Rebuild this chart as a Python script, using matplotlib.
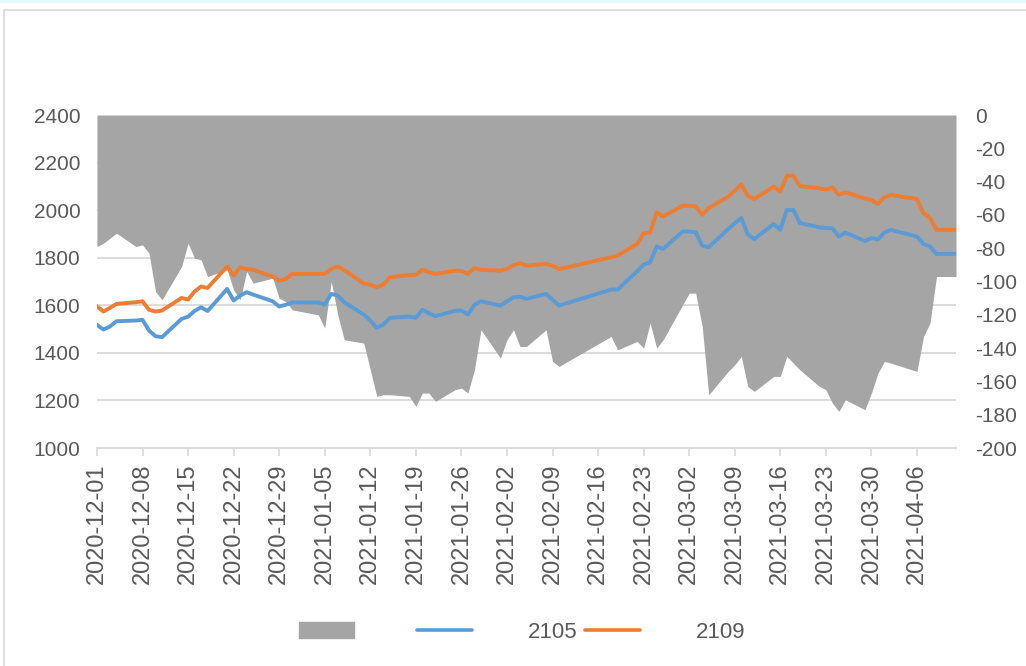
"""
Spread chart: 2105 / 2109 contracts with the spread as a grey area (right axis)
"""
import matplotlib
matplotlib.use('Agg')
import matplotlib.pyplot as plt
import matplotlib.dates as mdates
from matplotlib.patches import Patch, Rectangle
from matplotlib.lines import Line2D
import numpy as np
import pandas as pd

plt.rcParams['font.family'] = ['Liberation Sans', 'DejaVu Sans']
plt.rcParams['axes.unicode_minus'] = False

BLUE = '#5B9BD5'
ORANGE = '#ED7D31'
GREY = '#A5A5A5'
TEXT = '#595959'
GRID = '#D9D9D9'

# ── Data ────────────────────────────────────────────────────
dates = pd.to_datetime([
    '2020-12-01', '2020-12-02', '2020-12-03', '2020-12-04', '2020-12-07',
    '2020-12-08', '2020-12-09', '2020-12-10', '2020-12-11', '2020-12-14',
    '2020-12-15', '2020-12-16', '2020-12-17', '2020-12-18', '2020-12-21',
    '2020-12-22', '2020-12-23', '2020-12-24', '2020-12-25', '2020-12-28',
    '2020-12-29', '2020-12-30', '2020-12-31', '2021-01-04', '2021-01-05',
    '2021-01-06', '2021-01-07', '2021-01-08', '2021-01-11', '2021-01-12',
    '2021-01-13', '2021-01-14', '2021-01-15', '2021-01-18', '2021-01-19',
    '2021-01-20', '2021-01-21', '2021-01-22', '2021-01-25', '2021-01-26',
    '2021-01-27', '2021-01-28', '2021-01-29', '2021-02-01', '2021-02-02',
    '2021-02-03', '2021-02-04', '2021-02-05', '2021-02-08', '2021-02-09',
    '2021-02-10', '2021-02-18', '2021-02-19', '2021-02-22', '2021-02-23',
    '2021-02-24', '2021-02-25', '2021-02-26', '2021-03-01', '2021-03-02',
    '2021-03-03', '2021-03-04', '2021-03-05', '2021-03-08', '2021-03-09',
    '2021-03-10', '2021-03-11', '2021-03-12', '2021-03-15', '2021-03-16',
    '2021-03-17', '2021-03-18', '2021-03-19', '2021-03-22', '2021-03-23',
    '2021-03-24', '2021-03-25', '2021-03-26', '2021-03-29', '2021-03-30',
    '2021-03-31', '2021-04-01', '2021-04-02', '2021-04-06', '2021-04-07',
    '2021-04-08', '2021-04-09', '2021-04-12',
])

c2105 = [1518, 1498, 1511, 1533, 1536, 1539, 1494, 1470, 1466, 1543,
         1552, 1576, 1592, 1576, 1669, 1620, 1641, 1655, 1645, 1617,
         1595, 1602, 1612, 1612, 1603, 1648, 1641, 1613, 1561, 1536,
         1505, 1519, 1547, 1553, 1547, 1581, 1567, 1554, 1577, 1578,
         1561, 1602, 1617, 1599, 1617, 1634, 1636, 1627, 1648, 1623,
         1599, 1666, 1666, 1743, 1771, 1781, 1847, 1837, 1910, 1910,
         1907, 1851, 1844, 1921, 1945, 1967, 1898, 1879, 1942, 1917,
         2001, 2001, 1946, 1928, 1925, 1924, 1889, 1906, 1870, 1883,
         1877, 1906, 1917, 1889, 1858, 1847, 1816, 1816]

c2109 = [1595, 1574, 1589, 1606, 1613, 1617, 1581, 1574, 1578, 1631,
         1624, 1658, 1679, 1673, 1763, 1725, 1760, 1753, 1749, 1721,
         1704, 1711, 1732, 1732, 1732, 1753, 1763, 1748, 1691, 1687,
         1676, 1687, 1718, 1727, 1728, 1750, 1739, 1732, 1745, 1745,
         1732, 1757, 1749, 1746, 1753, 1769, 1777, 1767, 1774, 1766,
         1752, 1802, 1809, 1858, 1903, 1906, 1991, 1973, 2019, 2018,
         2016, 1981, 2009, 2057, 2082, 2107, 2061, 2047, 2099, 2078,
         2145, 2145, 2101, 2092, 2086, 2096, 2065, 2075, 2049, 2043,
         2026, 2054, 2064, 2047, 1987, 1967, 1917, 1917]

spread = [-79, -77, -74, -71, -79, -78, -83, -106, -111, -91,
          -77, -86, -87, -97, -93, -105, -111, -94, -101, -98,
          -110, -112, -117, -120, -128, -100, -120, -135, -137, -153,
          -169, -168, -168, -169, -175, -167, -167, -172, -165, -164,
          -167, -153, -129, -146, -135, -129, -139, -139, -129, -148,
          -151, -133, -141, -136, -140, -125, -140, -135, -114, -107,
          -107, -127, -168, -154, -150, -145, -163, -166, -157, -157,
          -145, -149, -153, -163, -165, -173, -178, -171, -177, -167,
          -155, -148, -149, -154, -133, -125, -97, -97]

left_ticks = np.arange(1000, 2401, 200)
right_ticks = np.arange(-200, 1, 20)

# ── Figure ──────────────────────────────────────────────────
fig = plt.figure(figsize=(10.26, 6.66), dpi=100)
ax = fig.add_axes([0.0945, 0.3273, 0.8373, 0.5])
ax_r = ax.twinx()
ax.set_zorder(ax_r.get_zorder() + 1)
ax.patch.set_visible(False)

# grey spread area (right axis), grid drawn underneath it
ax_r.fill_between(dates, spread, 0, color=GREY, linewidth=0, zorder=2)
ax_r.set_ylim(-200, 0)
ax_r.set_yticks(right_ticks)
ax_r.set_yticks(np.linspace(-200, 0, len(left_ticks)), minor=True)
ax_r.yaxis.grid(True, which='minor', color=GRID, linewidth=1.3, zorder=0)
ax_r.set_axisbelow(True)
ax_r.tick_params(axis='y', which='both', length=0, pad=14,
                 labelsize=15, labelcolor=TEXT)

# price lines (left axis)
ax.plot(dates, c2105, color=BLUE, linewidth=2.8, solid_joinstyle='round')
ax.plot(dates, c2109, color=ORANGE, linewidth=2.8, solid_joinstyle='round')
ax.set_ylim(1000, 2400)
ax.set_yticks(left_ticks)
ax.tick_params(axis='y', length=0, pad=12, labelsize=15, labelcolor=TEXT)

ax.set_xlim(dates[0], dates[-1])
ax.set_xticks(pd.date_range('2020-12-01', '2021-04-12', freq='7D'))
ax.xaxis.set_major_formatter(mdates.DateFormatter('%Y-%m-%d'))
ax.tick_params(axis='x', length=6, width=1.2, color=GRID, pad=5,
               labelsize=17, labelcolor=TEXT, labelrotation=90)

for a in (ax, ax_r):
    for side in ('top', 'left', 'right'):
        a.spines[side].set_visible(False)
ax_r.spines['bottom'].set_visible(False)
ax.spines['bottom'].set_color(GRID)
ax.spines['bottom'].set_linewidth(1.3)

# legend at the bottom
handles = [Patch(color=GREY),
           Line2D([], [], color=BLUE, linewidth=2.6, solid_capstyle='round'),
           Line2D([], [], color=ORANGE, linewidth=2.6, solid_capstyle='round')]
fig.legend(handles, ['', '2105', '2109'], loc='center',
           bbox_to_anchor=(0.509, 0.051), ncol=3, frameon=False,
           fontsize=16, labelcolor=TEXT, handlelength=2.48,
           handletextpad=2.52, columnspacing=0.32)

# chart area border
fig.patches.append(Rectangle((0.0039, -0.1), 1.2, 1.085, transform=fig.transFigure,
                             fill=False, edgecolor=GRID, linewidth=1.2))
fig.patches.append(Rectangle((0, 0.995), 1, 0.005, transform=fig.transFigure,
                             facecolor='#E4FAFA', edgecolor='none'))

fig.savefig('out.png', dpi=100)
